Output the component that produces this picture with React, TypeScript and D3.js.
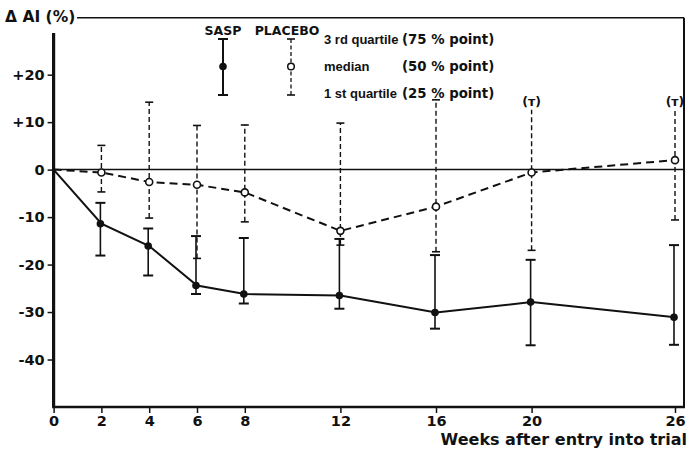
import { useEffect, useRef } from 'react'
import * as d3 from 'd3'

// weeks after entry, medians and quartiles of change in AI (%)
const weeks = [0, 2, 4, 6, 8, 12, 16, 20, 26]
const saspMedian = [0, -11.4, -16.1, -24.4, -26.2, -26.5, -30.1, -27.9, -31.1]
const saspQ3 = [null, -7.0, -12.4, -14.0, -14.4, -14.6, -18.0, -19.0, -15.9]
const saspQ1 = [null, -18.1, -22.3, -26.2, -28.2, -29.3, -33.5, -37.0, -36.9]
const placeboMedian = [0, -0.6, -2.6, -3.2, -4.8, -12.9, -7.8, -0.6, 2.0]
const placeboQ3 = [null, 5.1, 14.2, 9.3, 9.4, 9.8, 14.7, 12.6, 12.6]
const placeboQ1 = [null, -4.7, -10.2, -18.7, -11.0, -15.9, -17.3, -17.0, -10.6]
// upper quartile off the scale -> shown as "(T)"
const placeboQ3Bracket = [false, false, false, false, false, false, false, true, true]
const yTicks = [20, 10, 0, -10, -20, -30, -40]
const yTickLabels = ['+20', '+10', '0', '-10', '-20', '-30', '-40']
const legendNames = ['3 rd quartile', 'median', '1 st quartile']
const legendPoints = ['(75 % point)', '(50 % point)', '(25 % point)']

const FONT = '"DejaVu Sans", Verdana, sans-serif'
const NARROW = '"Liberation Sans", Arial, sans-serif'

export default function App() {
  const ref = useRef<SVGSVGElement | null>(null)
  useEffect(() => {
    if (!ref.current) return
    const svg = d3.select(ref.current)
    svg.selectAll('*').remove()
    const width = 689
    const height = 449
    const left = 53.6
    const right = 684
    const x = d3.scaleLinear().domain([0, 26]).range([left, 675])
    const y = d3.scaleLinear().domain([-50, 32]).range([407, 17.7])
    const ink = '#111'

    svg.append('rect').attr('width', width).attr('height', height).attr('fill', '#fff')

    // frame
    svg.append('line').attr('x1', 77).attr('x2', right).attr('y1', y(32)).attr('y2', y(32))
      .attr('stroke', ink).attr('stroke-width', 1.6)
    svg.append('line').attr('x1', right).attr('x2', right).attr('y1', y(32)).attr('y2', y(-50))
      .attr('stroke', ink).attr('stroke-width', 2)
    svg.append('line').attr('x1', left).attr('x2', left).attr('y1', y(28.8)).attr('y2', y(-50))
      .attr('stroke', ink).attr('stroke-width', 3.2)
    svg.append('line').attr('x1', left - 1.5).attr('x2', right + 1).attr('y1', y(-50)).attr('y2', y(-50))
      .attr('stroke', ink).attr('stroke-width', 2.6)
    svg.append('line').attr('x1', left).attr('x2', right).attr('y1', y(0)).attr('y2', y(0))
      .attr('stroke', ink).attr('stroke-width', 1.5)

    // axes
    const ya = svg.append('g').attr('transform', `translate(${left},0)`)
      .call(d3.axisLeft(y).tickValues(yTicks).tickSize(6).tickPadding(3)
        .tickFormat((_, i) => yTickLabels[i]))
    ya.select('.domain').remove()
    ya.selectAll('line').attr('stroke', ink).attr('stroke-width', 1.5)
    ya.selectAll('text').attr('font-family', FONT).attr('font-size', 14.5).attr('font-weight', 'bold')
      .attr('fill', ink)

    const xa = svg.append('g').attr('transform', `translate(0,${y(-50)})`)
      .call(d3.axisBottom(x).tickValues(weeks).tickSize(6).tickPadding(3).tickFormat(d3.format('d')))
    xa.select('.domain').remove()
    xa.selectAll('line').attr('stroke', ink).attr('stroke-width', 1.5)
    xa.selectAll('text').attr('font-family', FONT).attr('font-size', 14.5).attr('font-weight', 'bold')
      .attr('fill', ink)

    svg.append('text').attr('x', 687).attr('y', 445).attr('text-anchor', 'end')
      .attr('font-family', FONT).attr('font-size', 16).attr('font-weight', 'bold').attr('fill', ink)
      .text('Weeks after entry into trial')
    svg.append('text').attr('x', 5).attr('y', 22)
      .attr('font-family', FONT).attr('font-size', 15.5).attr('font-weight', 'bold').attr('fill', ink)
      .text('Δ AI (%)')

    const idx = d3.range(weeks.length)

    // error bars
    const placeboBars = idx.filter((i) => placeboQ3[i] !== null)
    placeboBars.forEach((i) => {
      const cx = x(weeks[i])
      svg.append('line').attr('x1', cx).attr('x2', cx)
        .attr('y1', y(placeboQ1[i] as number)).attr('y2', y(placeboQ3[i] as number))
        .attr('stroke', ink).attr('stroke-width', 1.4).attr('stroke-dasharray', '5,3')
      svg.append('line').attr('x1', cx - 4).attr('x2', cx + 4)
        .attr('y1', y(placeboQ1[i] as number)).attr('y2', y(placeboQ1[i] as number))
        .attr('stroke', ink).attr('stroke-width', 1.6)
      if (placeboQ3Bracket[i]) {
        svg.append('text').attr('x', cx).attr('y', y(placeboQ3[i] as number) - 4)
          .attr('text-anchor', 'middle').attr('font-family', FONT).attr('font-size', 12.5)
          .attr('font-weight', 'bold').attr('fill', ink).text('(т)')
      } else {
        svg.append('line').attr('x1', cx - 4).attr('x2', cx + 4)
          .attr('y1', y(placeboQ3[i] as number)).attr('y2', y(placeboQ3[i] as number))
          .attr('stroke', ink).attr('stroke-width', 1.6)
      }
    })
    const saspBars = idx.filter((i) => saspQ3[i] !== null)
    saspBars.forEach((i) => {
      const cx = x(weeks[i]) - 1
      const lo = y(saspQ1[i] as number)
      const hi = y(saspQ3[i] as number)
      svg.append('line').attr('x1', cx).attr('x2', cx).attr('y1', lo).attr('y2', hi)
        .attr('stroke', ink).attr('stroke-width', 1.6)
      ;[lo, hi].forEach((yy) => {
        svg.append('line').attr('x1', cx - 5).attr('x2', cx + 5).attr('y1', yy).attr('y2', yy)
          .attr('stroke', ink).attr('stroke-width', 2)
      })
    })

    // median lines
    const line = d3.line<number>().x((i) => x(weeks[i]))
    svg.append('path').datum(idx)
      .attr('d', line.y((i) => y(placeboMedian[i])))
      .attr('fill', 'none').attr('stroke', ink).attr('stroke-width', 2).attr('stroke-dasharray', '8,5')
    svg.append('path').datum(idx)
      .attr('d', line.y((i) => y(saspMedian[i])))
      .attr('fill', 'none').attr('stroke', ink).attr('stroke-width', 2)

    svg.append('g').selectAll('circle').data(idx.slice(1)).enter().append('circle')
      .attr('cx', (i) => x(weeks[i])).attr('cy', (i) => y(placeboMedian[i])).attr('r', 3.5)
      .attr('fill', '#fff').attr('stroke', ink).attr('stroke-width', 1.6)
    svg.append('g').selectAll('circle').data(idx.slice(1)).enter().append('circle')
      .attr('cx', (i) => x(weeks[i]) - 1).attr('cy', (i) => y(saspMedian[i])).attr('r', 3.8)
      .attr('fill', ink)

    // legend
    const lg = svg.append('g')
    const txt = (tx: number, ty: number, s: string, anchor = 'start', family = FONT, size = 12.5) =>
      lg.append('text').attr('x', tx).attr('y', ty).attr('text-anchor', anchor)
        .attr('font-family', family).attr('font-size', size).attr('font-weight', 'bold').attr('fill', ink).text(s)
    txt(223, 35, 'SASP', 'middle')
    txt(287, 35, 'PLACEBO', 'middle')
    lg.append('line').attr('x1', 223).attr('x2', 223).attr('y1', 39).attr('y2', 95)
      .attr('stroke', ink).attr('stroke-width', 2)
    ;[39, 95].forEach((yy) => lg.append('line').attr('x1', 218).attr('x2', 228).attr('y1', yy).attr('y2', yy)
      .attr('stroke', ink).attr('stroke-width', 2))
    lg.append('circle').attr('cx', 223).attr('cy', 66.5).attr('r', 3.8).attr('fill', ink)
    lg.append('line').attr('x1', 291).attr('x2', 291).attr('y1', 39).attr('y2', 95)
      .attr('stroke', ink).attr('stroke-width', 1.3).attr('stroke-dasharray', '4,2.5')
    ;[39, 95].forEach((yy) => lg.append('line').attr('x1', 287).attr('x2', 295).attr('y1', yy).attr('y2', yy)
      .attr('stroke', ink).attr('stroke-width', 1.6))
    lg.append('circle').attr('cx', 291).attr('cy', 66.5).attr('r', 3.3)
      .attr('fill', '#fff').attr('stroke', ink).attr('stroke-width', 1.5)
    legendNames.forEach((s, i) => {
      txt(324, 44 + i * 27, s, 'start', NARROW, 13)
      txt(402, 44 + i * 27, legendPoints[i], 'start', FONT, 13.3)
    })
  }, [])
  return (
    <svg ref={ref} width={689} height={449}
      style={{ position: 'absolute', left: 0, top: 0, background: '#fff' }} />
  )
}
